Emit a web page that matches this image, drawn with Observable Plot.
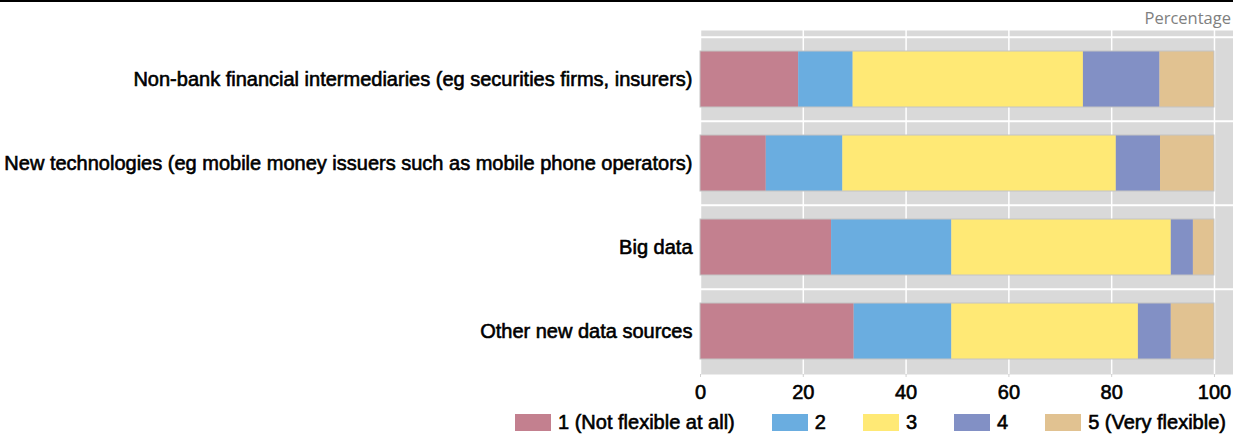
<!DOCTYPE html>
<html>
<head>
<meta charset="utf-8">
<script src="https://cdn.jsdelivr.net/npm/d3@7"></script>
<script src="https://cdn.jsdelivr.net/npm/@observablehq/plot@0.6"></script>
<style>
  body { margin: 0; background: #fff; }
  #wrap { position: relative; width: 1233px; height: 435px; font-family: "Liberation Sans", Arial, sans-serif; }
  #topline { position: absolute; left: 0; top: 0; width: 1233px; height: 2px; background: #000; }
  #unit { position: absolute; right: 2px; top: 6px; font-family: "Open Sans", sans-serif; font-size: 16.5px; color: #808080; }
  #chart { position: absolute; left: 0; top: 0; }
  #legend { position: absolute; left: 515px; top: 410px; height: 24px; display: flex; align-items: center; font-size: 20px; color: #000; }
  .item { display: flex; align-items: center; margin-right: 37px; }
  .item:last-child { margin-right: 0; }
  .sw { width: 36px; height: 17px; margin-right: 7px; }
  svg text { stroke: #000; stroke-width: 0.6px; }
</style>
</head>
<body>
<div id="wrap">
  <div id="chart"></div>
  <div id="topline"></div>
  <div id="unit">Percentage</div>
  <div id="legend"></div>
</div>
<script>
const categories = [
  "Non-bank financial intermediaries (eg securities firms, insurers)",
  "New technologies (eg mobile money issuers such as mobile phone operators)",
  "Big data",
  "Other new data sources"
];
const levels = ["1 (Not flexible at all)", "2", "3", "4", "5 (Very flexible)"];
const colors = ["#c3808f", "#6aade0", "#ffe975", "#8290c5", "#e1c291"];
const level1 = [19.1, 12.8, 25.5, 29.9];
const level2 = [10.6, 14.9, 23.4, 19.0];
const level3 = [44.8, 53.2, 42.7, 36.3];
const level4 = [14.9, 8.6, 4.3, 6.4];
const level5 = [10.6, 10.5, 4.1, 8.4];
const xTicks = [0, 20, 40, 60, 80, 100];

const series = [level1, level2, level3, level4, level5];
const data = [];
series.forEach((vals, li) => {
  vals.forEach((v, ci) => data.push({category: categories[ci], level: levels[li], value: v}));
});
const totals = categories.map((c, ci) => ({category: c, total: series.reduce((s, arr) => s + arr[ci], 0)}));

const width = 1233, height = 405, marginTop = 36, marginBottom = 31;
const step = (height - marginTop - marginBottom) / categories.length;

const chart = Plot.plot({
  width, height,
  marginLeft: 700, marginRight: 0, marginTop, marginBottom,
  style: {fontFamily: "'Liberation Sans', Arial, sans-serif", fontSize: "20px", color: "#000", background: "transparent"},
  x: {domain: [0, 103.7], label: null},
  y: {domain: categories, label: null, paddingInner: 0.337, paddingOuter: 0.1685},
  color: {domain: levels, range: colors},
  marks: [
    Plot.frame({fill: "#d9d9d9", stroke: null, insetTop: -6}),
    Plot.ruleX(xTicks, {stroke: "#fff", strokeWidth: 1.5, insetTop: -6}),
    Plot.ruleY(categories, {stroke: "#fff", strokeWidth: 2, dy: -step / 2}),
    Plot.barX(data, {x: "value", y: "category", fill: "level"}),
    Plot.barX(totals, {x: "total", y: "category", fill: "none", stroke: "#c4c4c4", strokeWidth: 1}),
    Plot.axisX({ticks: xTicks, tickSize: 3, tickPadding: 7, stroke: "#d0d0d0", fill: "#000", label: null}),
    Plot.axisY({tickSize: 0, tickPadding: 8, label: null, fill: "#000"})
  ]
});
document.getElementById("chart").appendChild(chart);

const legend = document.getElementById("legend");
levels.forEach((l, i) => {
  const it = document.createElement("div");
  it.className = "item";
  const sw = document.createElement("div");
  sw.className = "sw";
  sw.style.background = colors[i];
  const t = document.createElement("span");
  t.textContent = l;
  t.style.webkitTextStroke = "0.6px #000";
  it.appendChild(sw); it.appendChild(t);
  legend.appendChild(it);
});
</script>
</body>
</html>
